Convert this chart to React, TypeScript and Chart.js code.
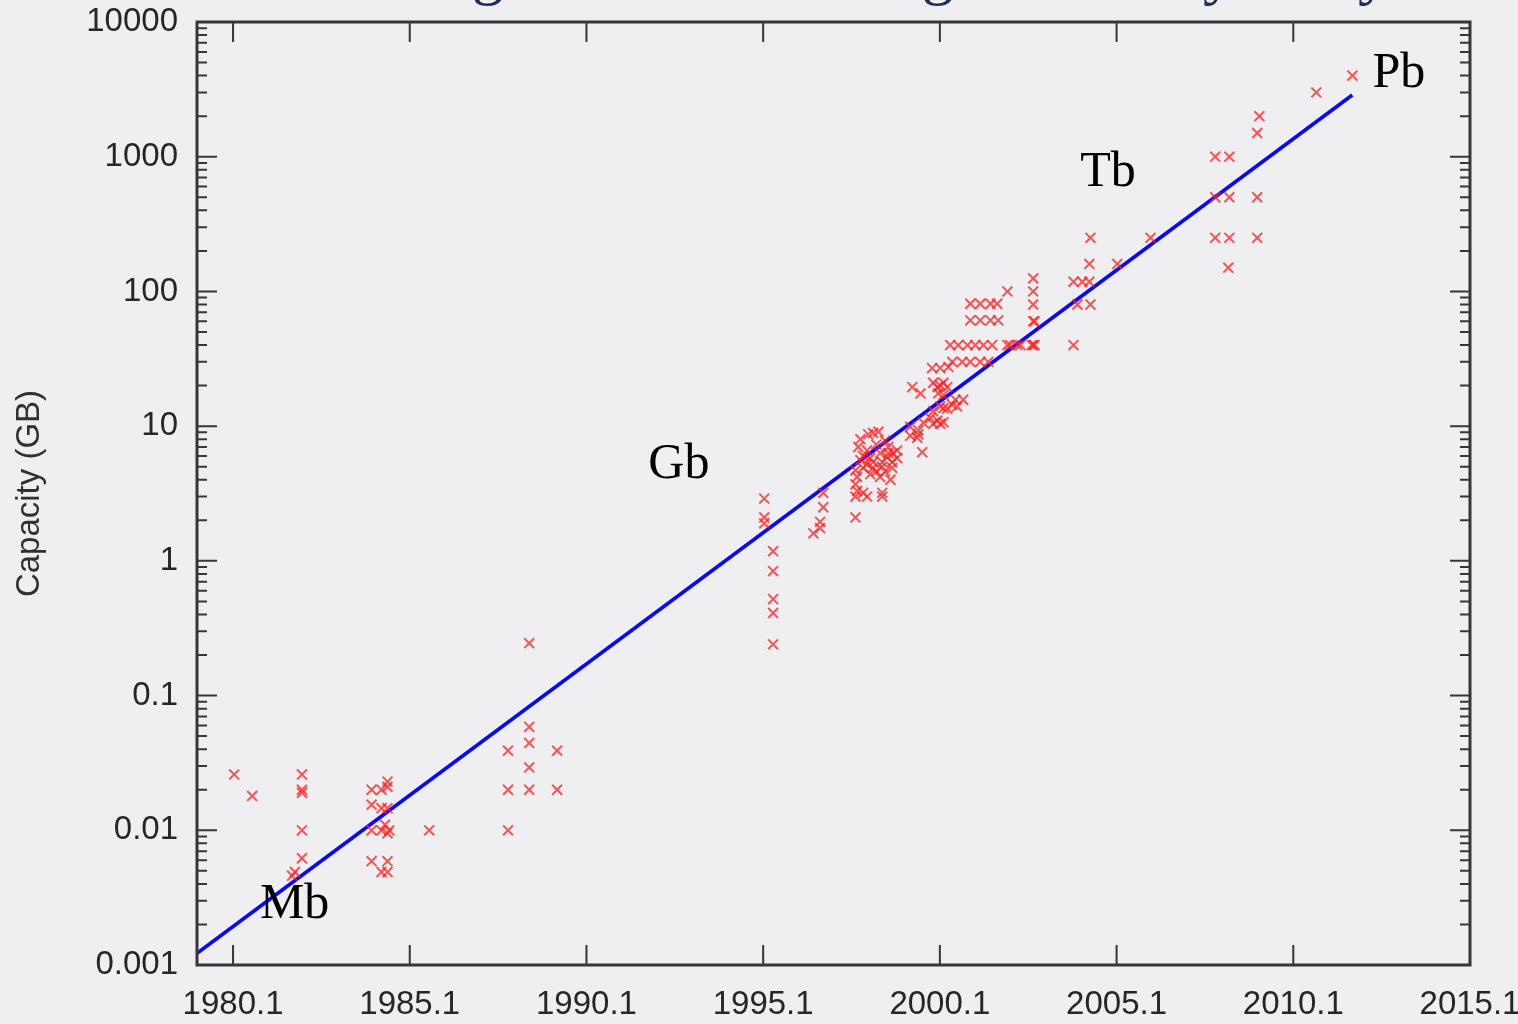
import React, { useEffect, useRef } from "react";
import { Chart, registerables } from "chart.js";

Chart.register(...registerables);

// Measured drive capacities (GB) by year
const pointYears = [
  1980.13, 1980.64, 1982.05, 1982.05, 1982.05, 1982.05, 1982.05, 1981.85, 1981.77,
  1984.02, 1984.3, 1984.47, 1984.47, 1984.02, 1984.3, 1984.47, 1984.02, 1984.3, 1984.52,
  1984.4, 1984.47, 1984.02, 1984.47, 1984.3, 1984.47, 1985.65, 1987.88, 1987.88, 1987.88,
  1988.48, 1988.48, 1988.48, 1988.48, 1988.48, 1989.27, 1989.27,
  1995.13, 1995.13, 1995.13, 1995.38, 1995.38, 1995.38, 1995.38, 1995.38,
  1996.8, 1996.8, 1996.71, 1996.71, 1996.52,
  1997.71, 1997.71, 1998.04, 1998.47, 1997.71, 1997.76, 1997.71, 1997.79, 1998.07, 1998.36,
  1998.21, 1998.41, 1998.64, 1998.78, 1998.21, 1998.47, 1998.75, 1997.93, 1998.21, 1998.47,
  1998.75, 1998.13, 1998.41, 1998.7, 1997.76, 1997.93, 1998.47, 1997.85, 1997.93, 1998.04,
  1998.13, 1998.3, 1998.55, 1998.6, 1998.3, 1998.89, 1998.89, 1998.04, 1998.64, 1998.55,
  1997.85,
  1999.26, 1999.26, 1999.49, 1999.49, 1999.6, 1999.46, 1999.91, 2000.11, 1999.83, 2000.2,
  2000.45, 2000.59, 1999.32, 1999.55, 1999.91, 2000.11, 2000.31, 2000.05, 2000.2, 2000.54,
  2000.76, 2000.11, 2000.31, 1999.63, 2000.03, 2000.2, 1999.91, 2000.03, 2000.2,
  1999.88, 2000.11, 2000.34, 2000.45, 2000.73, 2000.96, 2001.24, 2001.47,
  2000.39, 2000.62, 2000.88, 2001.1, 2001.33, 2001.58, 2002.01, 2002.09, 2002.29, 2002.38,
  2000.96, 2001.24, 2001.53, 2001.75, 2000.96, 2001.24, 2001.53, 2001.72, 2002.01,
  2002.74, 2002.7, 2002.78, 2002.74, 2002.78, 2002.74, 2002.74, 2002.74,
  2003.88, 2003.88, 2004.13, 2004.33, 2003.99, 2004.36, 2004.33, 2005.12, 2004.36, 2006.06,
  2007.89, 2008.29, 2007.89, 2008.29, 2009.08, 2007.89, 2008.29, 2009.08, 2008.26,
  2009.14, 2009.08, 2010.75, 2011.77,
];

const pointCapacities = [
  0.026, 0.018, 0.026, 0.02, 0.019, 0.01, 0.0062, 0.0049, 0.0046,
  0.02, 0.02, 0.021, 0.023, 0.0155, 0.0146, 0.0146, 0.01, 0.01, 0.01,
  0.011, 0.0095, 0.0059, 0.0059, 0.0049, 0.0049, 0.01, 0.01, 0.039, 0.02,
  0.245, 0.0586, 0.0445, 0.0293, 0.02, 0.039, 0.02,
  2.9, 2.1, 1.9, 1.18, 0.84, 0.52, 0.41, 0.24,
  3.2, 2.5, 1.95, 1.75, 1.6,
  2.1, 3.0, 3.0, 3.0, 3.7, 4.2, 4.7, 7.0, 8.7, 9.1,
  8.9, 6.3, 6.3, 6.3, 5.4, 5.4, 5.4, 4.9, 4.9, 5.0,
  4.9, 4.4, 4.2, 4.0, 3.3, 3.2, 3.2, 8.0, 6.0, 6.6,
  5.8, 7.3, 7.8, 5.9, 4.6, 5.8, 6.6, 5.2, 7.0, 4.6,
  5.6,
  9.9, 8.5, 8.7, 9.3, 6.4, 8.2, 10.4, 10.4, 11.5, 13.6,
  14.4, 14.0, 19.5, 17.5, 21, 20, 19.5, 17.5, 17, 15.7,
  15.7, 14, 13.5, 10.6, 11, 10.7, 12.9, 19.5, 21,
  27, 27, 27.5, 30, 30, 30, 30, 30,
  40, 40, 40, 40, 40, 40, 40, 40, 40, 40,
  61, 61, 61, 61, 81, 81, 81, 81, 100,
  40, 40, 40, 60, 60, 80, 100, 125,
  40, 118, 118, 118, 80, 80, 160, 160, 250, 250,
  1000, 1000, 500, 500, 500, 250, 250, 250, 150,
  2000, 1500, 3000, 4000,
];

// Exponential fit (straight line on the log axis)
const fitYears = [1979.08, 2011.77];
const fitCapacities = [0.00122, 2870];

const xTickValues = [1980.1, 1985.1, 1990.1, 1995.1, 2000.1, 2005.1, 2010.1, 2015.1];
const xTickLabels = ["1980.1", "1985.1", "1990.1", "1995.1", "2000.1", "2005.1", "2010.1", "2015.1"];
const yTickValues = [0.001, 0.01, 0.1, 1, 10, 100, 1000, 10000];
const yTickLabels = ["0.001", "0.01", "0.1", "1", "10", "100", "1000", "10000"];

const annotationTexts = ["Mb", "Gb", "Tb", "Pb"];
const annotationYears = [1980.86, 1991.85, 2004.07, 2012.34];
const annotationCapacities = [0.00223, 4.12, 606, 3290];

// Descenders of the slide title, cut off at the top edge
const titleGlyphs = ["g", "g", "y", "y"];
const titleGlyphX = [472, 922, 1203, 1358];

const BG = "#efeef1";
const AXIS = "#363636";
const SANS = '"Liberation Sans", Arial, sans-serif';

const decorPlugin = {
  id: "decor",
  beforeDraw(chart: any) {
    const { ctx, width, height } = chart;
    ctx.save();
    ctx.fillStyle = BG;
    ctx.fillRect(0, 0, width, height);
    ctx.fillStyle = "#1f2a5e";
    ctx.font = '64px "Liberation Serif", serif';
    ctx.textAlign = "left";
    ctx.textBaseline = "alphabetic";
    titleGlyphs.forEach((g, i) => ctx.fillText(g, titleGlyphX[i], -8));
    ctx.restore();
  },
  afterDatasetsDraw(chart: any) {
    const { ctx, chartArea: a, scales } = chart;
    const xs = scales.x;
    const ys = scales.y;
    ctx.save();
    ctx.strokeStyle = AXIS;
    ctx.lineWidth = 2;
    ctx.beginPath();
    yTickValues.forEach((v) => {
      const py = ys.getPixelForValue(v);
      ctx.moveTo(a.left, py);
      ctx.lineTo(a.left + 20, py);
      ctx.moveTo(a.right, py);
      ctx.lineTo(a.right - 20, py);
    });
    for (let i = 0; i < yTickValues.length - 1; i++) {
      for (let m = 2; m <= 9; m++) {
        const py = ys.getPixelForValue(yTickValues[i] * m);
        ctx.moveTo(a.left, py);
        ctx.lineTo(a.left + 10, py);
        ctx.moveTo(a.right, py);
        ctx.lineTo(a.right - 10, py);
      }
    }
    xTickValues.forEach((v) => {
      const px = xs.getPixelForValue(v);
      ctx.moveTo(px, a.bottom);
      ctx.lineTo(px, a.bottom - 20);
      ctx.moveTo(px, a.top);
      ctx.lineTo(px, a.top + 20);
    });
    ctx.stroke();
    ctx.lineWidth = 3;
    ctx.strokeRect(a.left, a.top, a.right - a.left, a.bottom - a.top);

    ctx.fillStyle = "#000";
    ctx.font = '50px "Liberation Serif", "DejaVu Serif", serif';
    ctx.textAlign = "left";
    ctx.textBaseline = "alphabetic";
    annotationTexts.forEach((t, i) => {
      ctx.fillText(t, xs.getPixelForValue(annotationYears[i]), ys.getPixelForValue(annotationCapacities[i]));
    });
    ctx.restore();
  },
};

export default function App() {
  const ref = useRef<HTMLCanvasElement | null>(null);

  useEffect(() => {
    if (!ref.current) return;
    const points = pointYears.map((x, i) => ({ x, y: pointCapacities[i] }));
    const fit = fitYears.map((x, i) => ({ x, y: fitCapacities[i] }));
    const chart = new Chart(ref.current, {
      type: "scatter",
      data: {
        datasets: [
          {
            label: "data",
            data: points,
            pointStyle: "crossRot",
            pointRadius: 7,
            pointBorderWidth: 2,
            borderColor: "rgba(255,30,30,0.75)",
            backgroundColor: "rgba(255,30,30,0.75)",
            showLine: false,
          } as any,
          {
            label: "fit",
            data: fit,
            showLine: true,
            borderColor: "#0808ff",
            borderWidth: 3.6,
            pointRadius: 0,
          } as any,
        ],
      },
      options: {
        animation: false,
        responsive: true,
        maintainAspectRatio: false,
        layout: { padding: { left: 0, right: 48, top: 22, bottom: 0 } },
        plugins: { legend: { display: false }, tooltip: { enabled: false } },
        scales: {
          x: {
            type: "linear",
            min: 1979.08,
            max: 2015.1,
            grid: { display: false, drawTicks: false },
            border: { display: false },
            afterBuildTicks: (s: any) => {
              s.ticks = xTickValues.map((value) => ({ value }));
            },
            afterFit: (s: any) => {
              s.height = 59;
              s.paddingLeft = 0;
              s.paddingRight = 0;
            },
            ticks: {
              autoSkip: false,
              maxRotation: 0,
              padding: 20,
              color: "#262626",
              font: { family: SANS, size: 33 },
              callback: (_v: any, i: number) => xTickLabels[i],
            },
          },
          y: {
            type: "logarithmic",
            min: 0.001,
            max: 10000,
            grid: { display: false, drawTicks: false },
            border: { display: false },
            afterBuildTicks: (s: any) => {
              s.ticks = yTickValues.map((value) => ({ value }));
            },
            afterFit: (s: any) => {
              s.width = 197;
              s.paddingTop = 0;
              s.paddingBottom = 0;
            },
            title: {
              display: true,
              text: "Capacity (GB)",
              color: "#303030",
              font: { family: SANS, size: 33 },
              padding: { top: 10, bottom: 4 },
            },
            ticks: {
              autoSkip: false,
              padding: 19,
              color: "#262626",
              font: { family: SANS, size: 33 },
              callback: (_v: any, i: number) => yTickLabels[i],
            },
          },
        },
      },
      plugins: [decorPlugin],
    });
    return () => chart.destroy();
  }, []);

  return (
    <div style={{ position: "fixed", left: 0, top: 0, width: 1518, height: 1024, background: BG }}>
      <canvas ref={ref} />
    </div>
  );
}
